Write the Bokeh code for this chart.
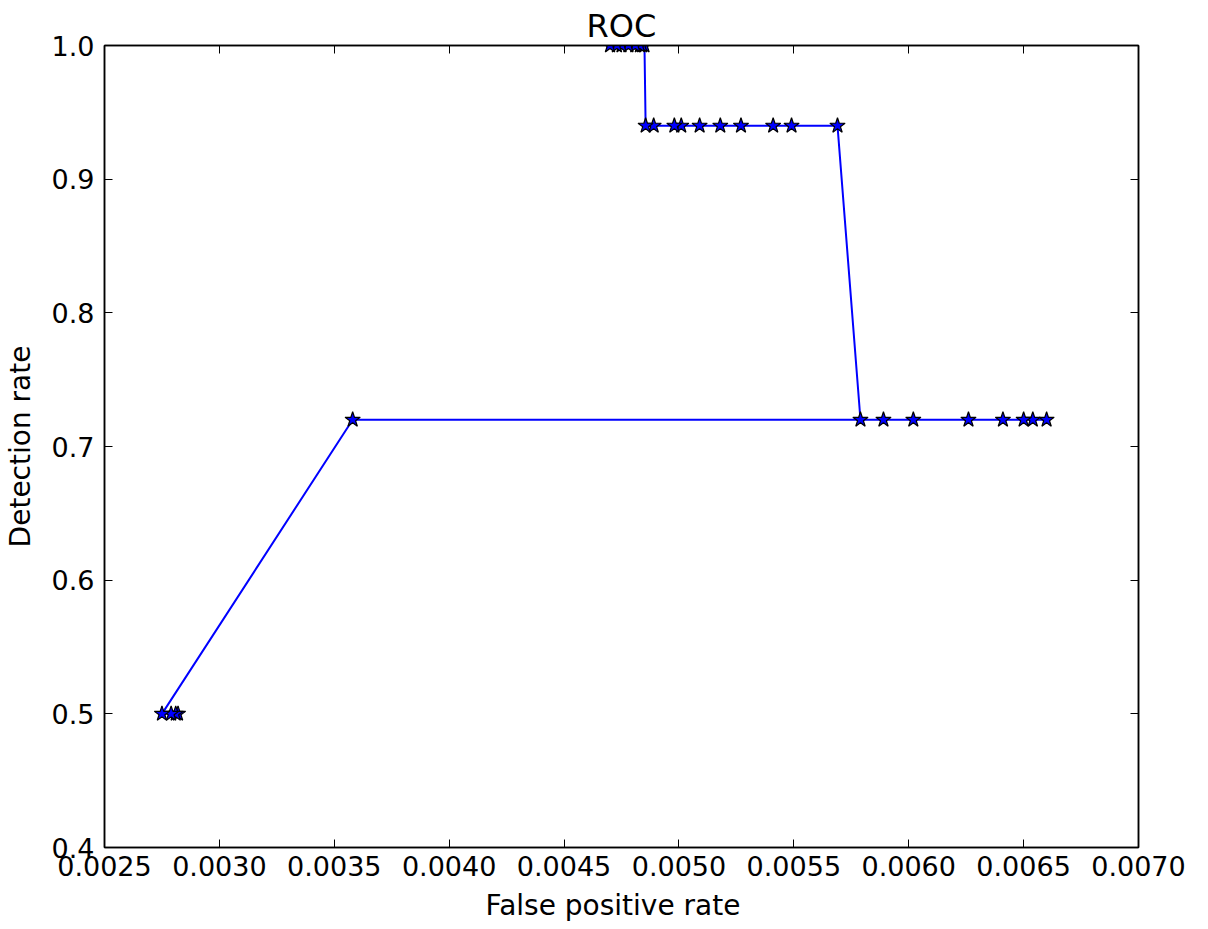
from bokeh.plotting import figure
from bokeh.models import (ColumnDataSource, FixedTicker, NumeralTickFormatter,
                          LinearAxis, CustomJSTickFormatter, Range1d, Div)
from bokeh.layouts import column
from bokeh.embed import file_html
from bokeh.resources import INLINE

# ---- data ----
fpr = [0.00282, 0.00281, 0.00279, 0.00275,
       0.00358,
       0.00660, 0.00654, 0.00650, 0.00641, 0.00626, 0.00602, 0.00589, 0.00579,
       0.00569, 0.00549, 0.00541, 0.00527, 0.00518, 0.00509, 0.00501, 0.00498,
       0.00489, 0.004855,
       0.00485, 0.00484, 0.00483, 0.00481, 0.00478, 0.00475, 0.00473, 0.00470]
tpr = [0.50, 0.50, 0.50, 0.50,
       0.72,
       0.72, 0.72, 0.72, 0.72, 0.72, 0.72, 0.72, 0.72,
       0.94, 0.94, 0.94, 0.94, 0.94, 0.94, 0.94, 0.94, 0.94, 0.94,
       1.00, 1.00, 1.00, 1.00, 1.00, 1.00, 1.00, 1.00]
x_ticks = [0.0025, 0.0030, 0.0035, 0.0040, 0.0045, 0.0050, 0.0055, 0.0060, 0.0065, 0.0070]
y_ticks = [0.4, 0.5, 0.6, 0.7, 0.8, 0.9, 1.0]
x_lim = (0.0025, 0.0070)
y_lim = (0.4, 1.0)
title_text = "ROC"
x_label = "False positive rate"
y_label = "Detection rate"

FONT = "DejaVu Sans"
TICK_FS = "27px"
LABEL_FS = "28px"

src = ColumnDataSource(dict(x=fpr, y=tpr))

FRAME_W, FRAME_H = 1034, 802
BORDER_L, BORDER_R, BORDER_T, BORDER_B = 96, 52, 38, 45
p = figure(frame_width=FRAME_W, frame_height=FRAME_H,
           output_backend="svg", toolbar_location=None,
           x_range=Range1d(*x_lim), y_range=Range1d(*y_lim),
           title=title_text, y_axis_label=y_label)
p.margin = (3, 0, 0, 0)
p.min_border_left = BORDER_L
p.min_border_right = BORDER_R
p.min_border_top = BORDER_T
p.min_border_bottom = BORDER_B

p.title.align = "center"
p.title.text_font = FONT
p.title.text_font_size = "32px"
p.title.text_font_style = "normal"
p.title.text_color = "black"
p.title.text_line_height = 1.0
p.title.standoff = 2

p.xgrid.visible = False
p.ygrid.visible = False
p.outline_line_color = "black"
p.outline_line_width = 1.5
p.background_fill_color = "white"
p.border_fill_color = "white"

def style_axis(ax, ticks, fmt, labels=True):
    ax.ticker = FixedTicker(ticks=ticks)
    ax.minor_tick_line_color = None
    ax.major_tick_in = 8
    ax.major_tick_out = 0
    ax.major_tick_line_color = "black"
    ax.major_tick_line_width = 1
    ax.axis_line_color = "black"
    ax.axis_line_width = 1.5
    if labels:
        ax.formatter = NumeralTickFormatter(format=fmt)
        ax.major_label_text_font = FONT
        ax.major_label_text_font_size = TICK_FS
        ax.major_label_text_color = "black"
        ax.axis_label_text_font = FONT
        ax.axis_label_text_font_size = LABEL_FS
        ax.axis_label_text_font_style = "normal"
        ax.axis_label_text_color = "black"
    else:
        ax.formatter = CustomJSTickFormatter(code="return ''")
        ax.major_label_standoff = 0
        ax.major_label_text_font_size = "0px"

xa = p.xaxis[0]
ya = p.yaxis[0]
style_axis(xa, x_ticks, "0.0000")
style_axis(ya, y_ticks, "0.0")
xa.major_label_standoff = 8
ya.major_label_standoff = 10
ya.axis_label_standoff = 12

top = LinearAxis()
right = LinearAxis()
style_axis(top, x_ticks, None, labels=False)
style_axis(right, y_ticks, None, labels=False)
p.add_layout(top, "above")
p.add_layout(right, "right")

p.line("x", "y", source=src, line_color="#0000ff", line_width=2)
p.scatter("x", "y", source=src, marker="star", size=16,
          fill_color="#0000ff", line_color="black", line_width=1.2)

# x-axis title under the frame (kept as real text)
xlab = Div(text=x_label, width=FRAME_W, height=22, margin=(0, 0, 0, BORDER_L),
           styles={"text-align": "center", "font-family": FONT,
                   "font-size": LABEL_FS, "line-height": "28px", "color": "black"})

layout = column(p, xlab, spacing=0)
open("out.html", "w").write(file_html(layout, INLINE))
